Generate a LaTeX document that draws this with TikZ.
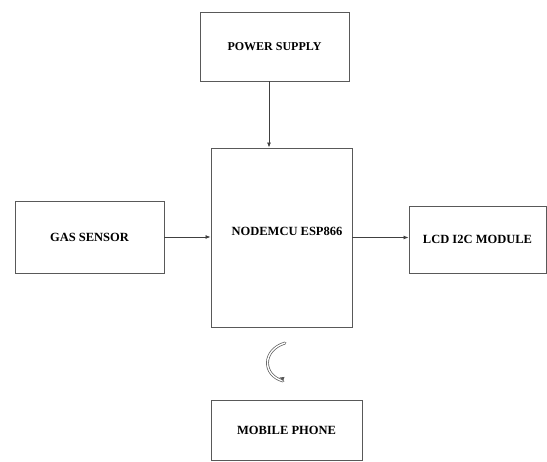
\documentclass[tikz,border=0pt]{standalone}
\usepackage{fontspec}
\setmainfont{Liberation Serif}
\usetikzlibrary{arrows.meta}
\begin{document}
\begin{tikzpicture}[x=1pt,y=-1pt,
  blk/.style={draw=black!65, line width=0.9pt, inner sep=0pt, font=\fontsize{12.5}{14}\selectfont\bfseries},
  conn/.style={draw=black!75, line width=0.8pt, -{Latex[length=5pt,width=4pt]}}]
\useasboundingbox (0,0) rectangle (547,462);
\node[blk, minimum width=149pt, minimum height=69pt, font=\fontsize{12}{14}\selectfont\bfseries] (ps) at (274.5,46.5) {POWER SUPPLY};
\node[blk, minimum width=141pt, minimum height=179pt] (mcu) at (281.5,237.5) {};
\node[font=\fontsize{12.5}{14}\selectfont\bfseries] (mcut) at (287,231) {NODEMCU ESP866};
\node[blk, minimum width=149pt, minimum height=72pt] (gas) at (89.5,237) {GAS SENSOR};
\node[blk, minimum width=137pt, minimum height=67pt] (lcd) at (477.5,239.5) {LCD I2C MODULE};
\node[blk, minimum width=151pt, minimum height=60pt] (mob) at (286.5,430) {MOBILE PHONE};
\draw[conn] ([xshift=-5.5pt]ps.south) -- ([xshift=-5.5pt]ps.south |- mcu.north);
\draw[conn] (gas.east) -- (gas.east -| mcu.west);
\draw[conn] (mcu.east) -- (mcu.east -| lcd.west);
\coordinate (w1) at (285,343);
\coordinate (w2) at (283,381);
\draw[draw=black!65, line width=0.7pt, double=white, double distance=1.4pt, line cap=round]
  (w1) .. controls (262,350) and (262,375) .. (w2);
\fill[black!65] (w2) -- ++(-3.5,-3.5) -- ++(5,-0.5) -- cycle;
\end{tikzpicture}
\end{document}
